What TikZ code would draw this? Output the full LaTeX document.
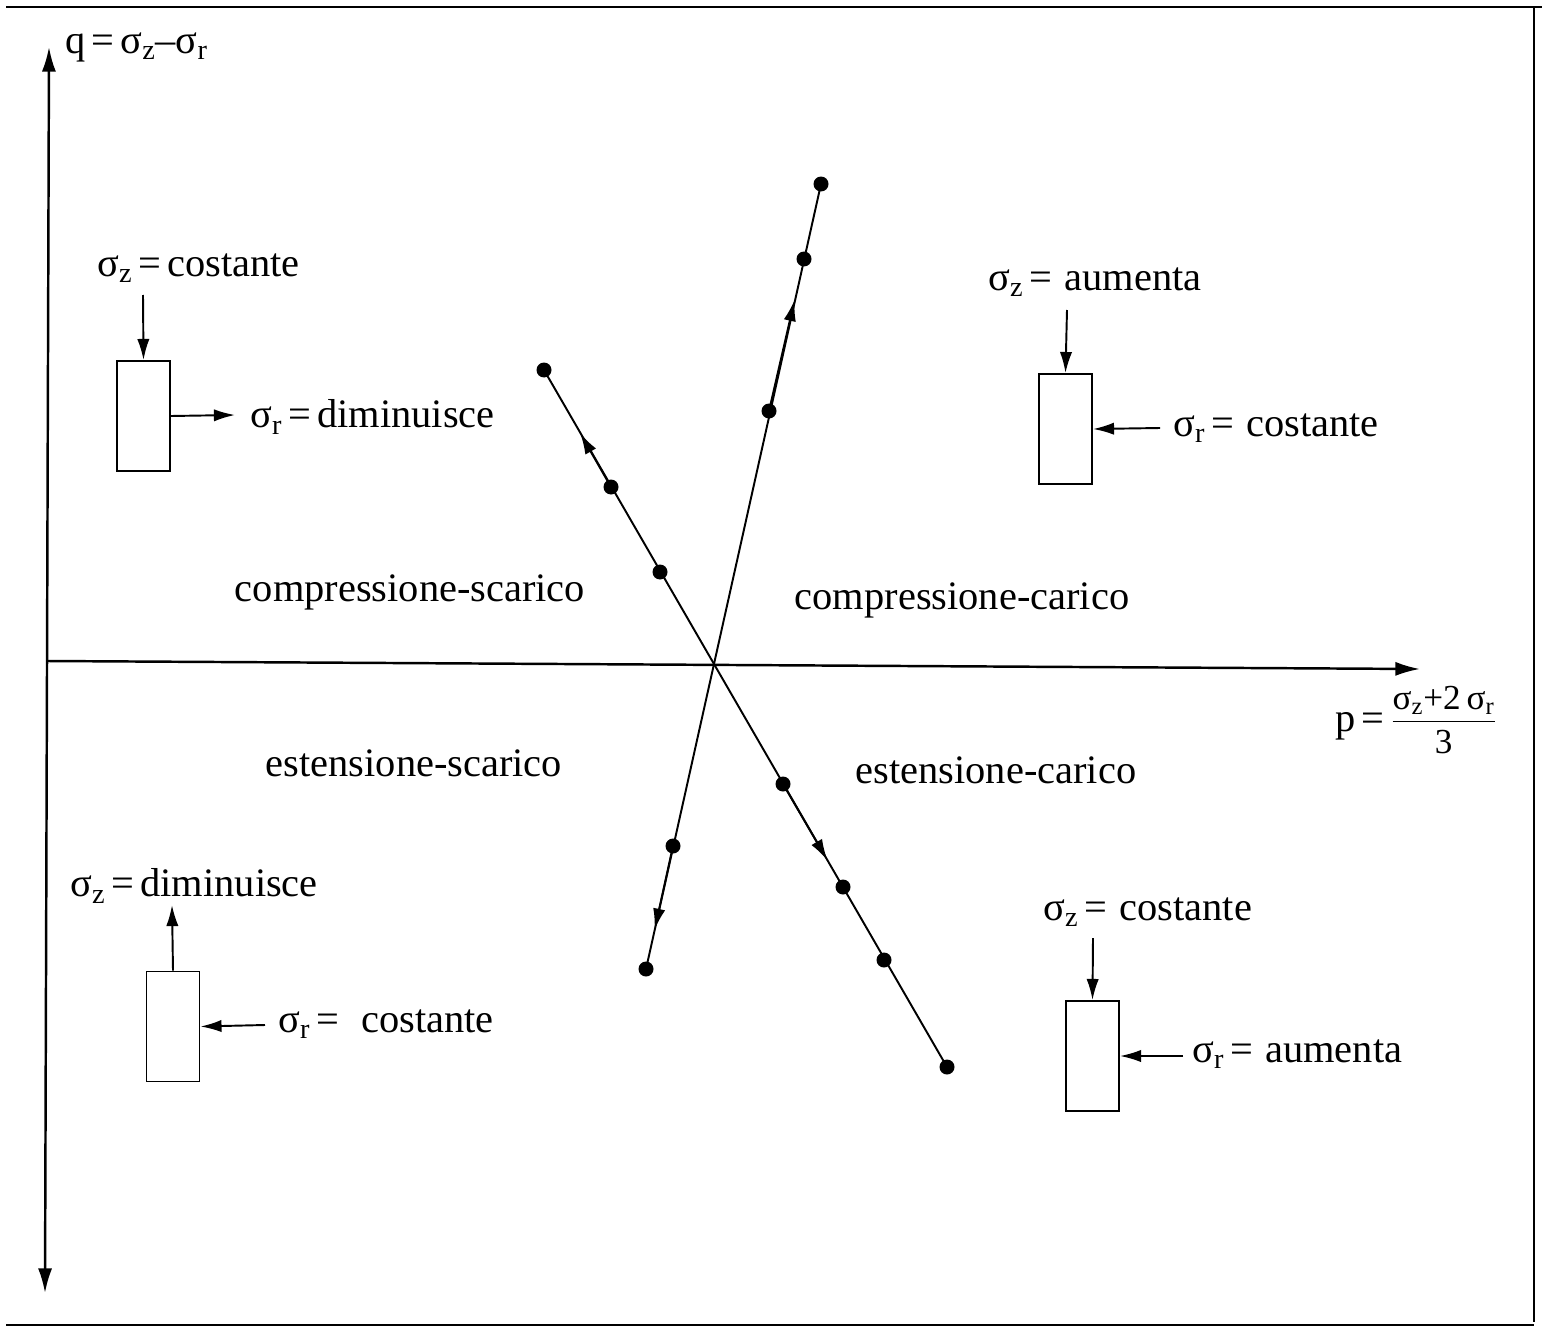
\documentclass[tikz,border=0pt]{standalone}
\usepackage{fontspec}
\setmainfont{Liberation Serif}
\usetikzlibrary{arrows.meta, positioning, calc}
\newcommand{\sg}[1]{σ\textsubscript{#1}}
\newcommand{\eq}{\hspace{0.15em}=\hspace{0.15em}}

\begin{document}
\begin{tikzpicture}[x=0.02cm, y=-0.02cm,
  lbl/.style={font=\fontsize{23}{27}\selectfont, inner sep=0pt},
  cell/.style={draw, line width=1.1pt, minimum width=1.06cm, minimum height=2.2cm, inner sep=0pt},
  force/.style={line width=1.1pt, -{Latex[length=12pt, width=7pt]}},
  trail/.style={line width=1.1pt},
  midarrow/.style={line width=1.1pt, -{Latex[length=12pt, width=7pt]}},
  axisline/.style={line width=1.4pt, >={Latex[length=14pt, width=8pt]}},
  dot/.style={fill=black}]
  \useasboundingbox (0,0) rectangle (1542,1328);

  % frame
  \draw[line width=1.6pt] (6,7) -- (1542,7);
  \draw[line width=1.6pt] (1534,7) -- (1534,1322);
  \draw[line width=1.6pt] (6,1325) -- (1534,1325);

  % axes
  \coordinate (qtop) at (49,47);
  \coordinate (qbot) at (45,1293);
  \coordinate (pleft) at (47,661);
  \coordinate (pright) at (1420,669);
  \draw[axisline, <->] (qtop) -- (qbot);
  \draw[axisline, ->] (pleft) -- (pright);
  \node[lbl, anchor=west] (qlab) at (65,47) {q\eq\sg{z}–\sg{r}};
  \node[lbl, anchor=west] (plab) at (1335,720)
    {p\eq$\frac{\mbox{\fontsize{20}{22}\selectfont\sg{z}+2\,\sg{r}\rule[-6pt]{0pt}{6pt}}}{\mbox{\fontsize{20}{22}\selectfont\rule{0pt}{18pt}3}}$};

  % stress paths: dots
  \coordinate (a1) at (821,184);
  \coordinate (a2) at (804,259);
  \coordinate (a3) at (769,411);
  \coordinate (a4) at (673,846);
  \coordinate (a5) at (646,969);
  \coordinate (b1) at (544,370);
  \coordinate (b2) at (611,487);
  \coordinate (b3) at (660,572);
  \coordinate (b4) at (783,784);
  \coordinate (b5) at (843,887);
  \coordinate (b6) at (884,960);
  \coordinate (b7) at (947,1067);
  \draw[trail] (a5) -- (a1);
  \draw[trail] (b1) -- (b7);
  \draw[midarrow] (a3) -- ($(a3)!0.73!(a2)$);
  \draw[midarrow] (a4) -- ($(a4)!0.68!(a5)$);
  \draw[midarrow] (b2) -- ($(b2)!0.46!(b1)$);
  \draw[midarrow] (b4) -- ($(b4)!0.74!(b5)$);
  \foreach \p in {a1,a2,a3,a4,a5,b1,b2,b3,b4,b5,b6,b7}
    \fill[dot] (\p) circle (0.15cm);

  % region names
  \node[lbl] (cs) at (410,592) {compressione-scarico};
  \node[lbl] (cc) at (962,600) {compressione-carico};
  \node[lbl] (es) at (414,763) {estensione-scarico};
  \node[lbl] (ec) at (996,770) {estensione-carico};

  % top left sample
  \node[cell] (tl) at (143.5,416) {};
  \coordinate (tlz) at (143,295);
  \coordinate (tlr) at (235,415);
  \draw[force] (tlz) -- (tl.north);
  \draw[force] (tl.east) -- (tlr);
  \node[lbl, anchor=west] (tlzlab) at (97,268) {\sg{z}\eq costante};
  \node[lbl, anchor=west] (tlrlab) at (250,417) {\sg{r}\eq diminuisce};

  % top right sample
  \node[cell] (tr) at (1065.5,429) {};
  \coordinate (trz) at (1067,310);
  \coordinate (trr) at (1160,428);
  \draw[force] (trz) -- (tr.north);
  \draw[force] (trr) -- (tr.east);
  \node[lbl, anchor=west] (trzlab) at (988,282) {\sg{z}\eq\hspace{0.15em}aumenta};
  \node[lbl, anchor=west] (trrlab) at (1173,428) {\sg{r}\eq\hspace{0.15em}costante};

  % bottom left sample
  \node[cell] (bl) at (173,1026.5) {};
  \coordinate (blz) at (172,905);
  \coordinate (blr) at (265,1025);
  \draw[force] (bl.north) -- (blz);
  \draw[force] (blr) -- (bl.east);
  \node[lbl, anchor=west] (blzlab) at (70,886) {\sg{z}\eq diminuisce};
  \node[lbl, anchor=west] (blrlab) at (278,1024) {\sg{r}\eq\hspace{0.4em}costante};

  % bottom right sample
  \node[cell] (br) at (1092.5,1056) {};
  \coordinate (brz) at (1093,938);
  \coordinate (brr) at (1183,1056);
  \draw[force] (brz) -- (br.north);
  \draw[force] (brr) -- (br.east);
  \node[lbl, anchor=west] (brzlab) at (1043,912) {\sg{z}\eq\hspace{0.15em}costante};
  \node[lbl, anchor=west] (brrlab) at (1192,1054) {\sg{r}\eq\hspace{0.15em}aumenta};
\end{tikzpicture}
\end{document}
